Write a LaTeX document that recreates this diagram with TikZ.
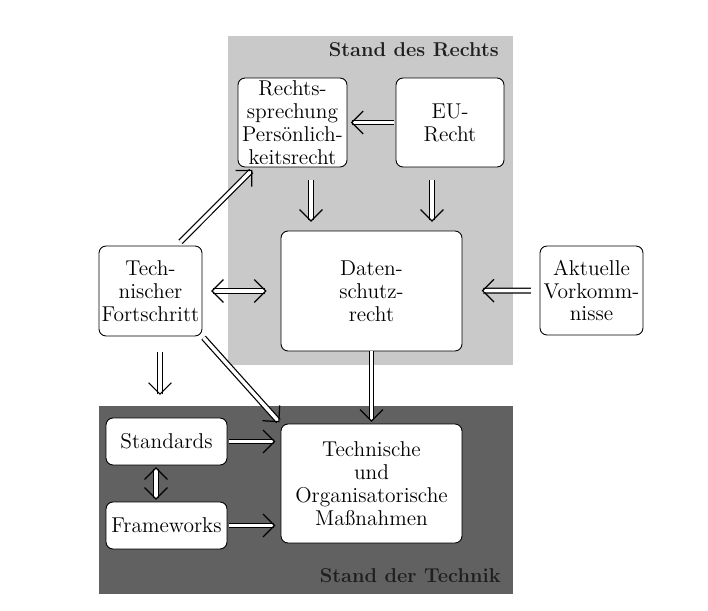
\documentclass[tikz,border=0pt]{standalone}
\usepackage{tikz}
\usetikzlibrary{arrows.meta}
\definecolor{rechtgrau}{gray}{0.79}
\definecolor{technikgrau}{gray}{0.38}
\tikzset{
	kasten/.style={draw=black, line width=0.5pt, fill=white, rounded corners=4pt, align=center, inner sep=1pt, font=\fontsize{12.2}{13}\selectfont},
	spitze/.tip={Straight Barb[length=6.5pt, width=13pt, line width=0.7pt 0 0]},
	pfeil/.style={double, double distance=2pt, line width=0.7pt, -spitze},
	doppelpfeil/.style={double, double distance=2pt, line width=0.7pt, spitze-spitze},
	titel/.style={font=\fontsize{11.4}{14}\selectfont\bfseries, anchor=east, text=black!88}
}

\begin{document}
\begin{tikzpicture}[x=0.02cm, y=-0.02cm]
			%%%%% START %%%%%
			\useasboundingbox (0, 0) rectangle (708, 611);
			
			\fill[rechtgrau] (228, 36) rectangle (513, 365);
			\fill[technikgrau] (99, 406) rectangle (513, 594);
			\node[titel] (rechtstitel) at (505, 50) {Stand des Rechts};
			\node[titel] (techniktitel) at (507, 576) {Stand der Technik};
			
			\node[kasten, minimum width=2.18cm, minimum height=1.78cm] (recht) at (292.5, 122.5) {Rechts-\\sprechung\\Pers\"onlich-\\keitsrecht};
			\node[kasten, minimum width=2.16cm, minimum height=1.78cm] (eu) at (450, 122.5) {EU-\\Recht};
			\node[kasten, minimum width=3.62cm, minimum height=2.4cm] (dsr) at (371.5, 291) {Daten-\\schutz-\\recht};
			\node[kasten, minimum width=2.06cm, minimum height=1.8cm] (tf) at (150.5, 291) {Tech-\\nischer\\Fortschritt};
			\node[kasten, minimum width=2.06cm, minimum height=1.78cm] (akt) at (591.5, 290.5) {Aktuelle\\Vorkomm-\\nisse};
			\node[kasten, minimum width=2.42cm, minimum height=0.94cm] (std) at (166.5, 441.5) {Standards};
			\node[kasten, minimum width=2.42cm, minimum height=0.94cm] (fw) at (166.5, 525.5) {Frameworks};
			\node[kasten, minimum width=3.62cm, minimum height=2.38cm] (tom) at (371.5, 483.5) {Technische\\und\\Organisatorische\\Ma\ss nahmen};
			
			\coordinate (tfende) at (160, 395);
			
			\draw[pfeil, shorten <=1pt, shorten >=2pt] (eu) -- (recht);
			\draw[pfeil, shorten <=7pt, shorten >=5pt] (recht.south -| 311, 0) -- (dsr.north -| 311, 0);
			\draw[pfeil, shorten <=7pt, shorten >=5pt] (eu.south -| 432, 0) -- (dsr.north -| 432, 0);
			\draw[doppelpfeil, shorten <=5pt, shorten >=8pt] (tf) -- (dsr);
			\draw[pfeil, shorten <=3pt, shorten >=2pt] (tf.60) -- (recht.230);
			\draw[pfeil, shorten <=5pt, shorten >=11pt] (akt) -- (dsr);
			\draw[pfeil, shorten <=1pt, shorten >=1pt] (tf.south east) -- (tom.north west);
			\draw[pfeil, shorten <=9pt] (tf.south -| tfende) -- (tfende);
			\draw[pfeil, shorten >=1pt] (dsr) -- (tom);
			\draw[pfeil, shorten <=1pt, shorten >=3pt] (std.east) -- (std.east -| tom.west);
			\draw[pfeil, shorten <=1pt, shorten >=3pt] (fw.east) -- (fw.east -| tom.west);
			\draw[doppelpfeil, shorten <=1pt, shorten >=1pt] ([xshift=-6]std.south) -- ([xshift=-6]fw.north);
			
			%%%%% END %%%%%
		\end{tikzpicture}
\end{document}
